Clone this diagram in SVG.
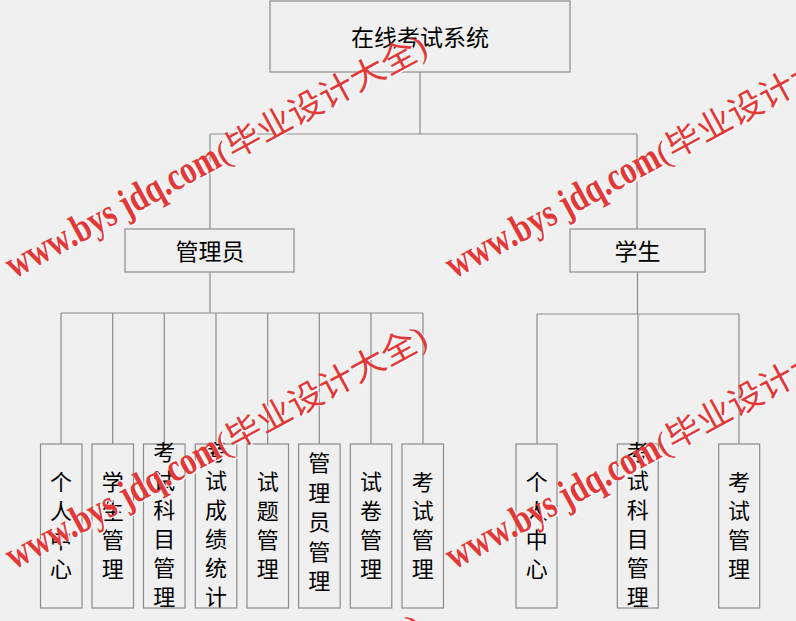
<svg xmlns="http://www.w3.org/2000/svg" width="796" height="621" viewBox="0 0 796 621">
<style>
.box{fill:#f0f0f0;stroke:#8c8c8c;stroke-width:1.2}
.con{fill:none;stroke:#8c8c8c;stroke-width:1.2}
.lbl{font-family:"Noto Sans CJK SC","Noto Sans",sans-serif;fill:#000;text-anchor:middle}
.big{font-size:23px}
.vt{font-size:22px}
.la{font-family:"Liberation Serif",serif;font-size:40px;font-weight:bold}
.cj{font-family:"Liberation Serif","Noto Sans CJK SC",serif;font-size:33px}
.r{fill:#e23838}
.w{fill:#ffffff;opacity:0.9}
</style>
<rect width="796" height="621" fill="#f0f0f0"/>
<g id="connectors">
<path class="con" d="M420 72V134M210 134H637M210 134V229M637 134V229"/>
<path class="con" d="M210 272V313M61 313H423M61 313V444M112.7 313V444M164.3 313V444M216 313V444M267.7 313V444M319.3 313V444M371 313V444M423 313V444"/>
<path class="con" d="M637.5 272V314M537 314H739M537 314V444M638 314V444M739 314V444"/>
</g>
<g id="root"><rect class="box" x="270" y="1" width="300" height="71"/><text class="lbl big" x="420" y="46">在线考试系统</text></g>
<g id="admin"><rect class="box" x="125" y="229" width="169" height="43"/><text class="lbl big" x="210" y="260">管理员</text></g>
<g id="student"><rect class="box" x="570" y="229" width="135" height="43"/><text class="lbl big" x="637.5" y="260">学生</text></g>
<g id="a1"><rect class="box" x="40.5" y="444" width="41.5" height="164"/><text class="lbl vt"><tspan x="61" y="490">个</tspan><tspan x="61" y="519">人</tspan><tspan x="61" y="548">中</tspan><tspan x="61" y="577">心</tspan></text></g>
<g id="a2"><rect class="box" x="92" y="444" width="41.5" height="164"/><text class="lbl vt"><tspan x="112.7" y="490">学</tspan><tspan x="112.7" y="519">生</tspan><tspan x="112.7" y="548">管</tspan><tspan x="112.7" y="577">理</tspan></text></g>
<g id="a3"><rect class="box" x="143.5" y="444" width="41.5" height="164"/><text class="lbl vt"><tspan x="164.3" y="460">考</tspan><tspan x="164.3" y="489">试</tspan><tspan x="164.3" y="518">科</tspan><tspan x="164.3" y="547">目</tspan><tspan x="164.3" y="576">管</tspan><tspan x="164.3" y="605">理</tspan></text></g>
<g id="a4"><rect class="box" x="195.3" y="444" width="41.5" height="164"/><text class="lbl vt"><tspan x="216" y="460">考</tspan><tspan x="216" y="489">试</tspan><tspan x="216" y="518">成</tspan><tspan x="216" y="547">绩</tspan><tspan x="216" y="576">统</tspan><tspan x="216" y="605">计</tspan></text></g>
<g id="a5"><rect class="box" x="247" y="444" width="41.5" height="164"/><text class="lbl vt"><tspan x="267.7" y="490">试</tspan><tspan x="267.7" y="519">题</tspan><tspan x="267.7" y="548">管</tspan><tspan x="267.7" y="577">理</tspan></text></g>
<g id="a6"><rect class="box" x="298.6" y="444" width="41.5" height="164"/><text class="lbl vt"><tspan x="319.3" y="471">管</tspan><tspan x="319.3" y="500.5">理</tspan><tspan x="319.3" y="530">员</tspan><tspan x="319.3" y="559.5">管</tspan><tspan x="319.3" y="589">理</tspan></text></g>
<g id="a7"><rect class="box" x="350.3" y="444" width="41.5" height="164"/><text class="lbl vt"><tspan x="371" y="490">试</tspan><tspan x="371" y="519">卷</tspan><tspan x="371" y="548">管</tspan><tspan x="371" y="577">理</tspan></text></g>
<g id="a8"><rect class="box" x="402" y="444" width="41.5" height="164"/><text class="lbl vt"><tspan x="422.7" y="490">考</tspan><tspan x="422.7" y="519">试</tspan><tspan x="422.7" y="548">管</tspan><tspan x="422.7" y="577">理</tspan></text></g>
<g id="s1"><rect class="box" x="516" y="444" width="41" height="164"/><text class="lbl vt"><tspan x="536.7" y="490">个</tspan><tspan x="536.7" y="519">人</tspan><tspan x="536.7" y="548">中</tspan><tspan x="536.7" y="577">心</tspan></text></g>
<g id="s2"><rect class="box" x="617.3" y="444" width="41" height="164"/><text class="lbl vt"><tspan x="637.8" y="460">考</tspan><tspan x="637.8" y="489">试</tspan><tspan x="637.8" y="518">科</tspan><tspan x="637.8" y="547">目</tspan><tspan x="637.8" y="576">管</tspan><tspan x="637.8" y="605">理</tspan></text></g>
<g id="s3"><rect class="box" x="718.7" y="444" width="41" height="164"/><text class="lbl vt"><tspan x="739" y="490">考</tspan><tspan x="739" y="519">试</tspan><tspan x="739" y="548">管</tspan><tspan x="739" y="577">理</tspan></text></g>
<g id="watermark">
<g transform="translate(14,279) rotate(-28.5)"><text class="la w" x="1.2" y="1.5" textLength="238" lengthAdjust="spacingAndGlyphs">www.bys jdq.com</text><text class="la r" x="0" y="0" textLength="238" lengthAdjust="spacingAndGlyphs">www.bys jdq.com</text><text class="cj w" x="239.2" y="1.5" textLength="235" lengthAdjust="spacingAndGlyphs">(毕业设计大全)</text><text class="cj r" x="238" y="0" textLength="235" lengthAdjust="spacingAndGlyphs">(毕业设计大全)</text></g>
<g transform="translate(454,279) rotate(-28.5)"><text class="la w" x="1.2" y="1.5" textLength="238" lengthAdjust="spacingAndGlyphs">www.bys jdq.com</text><text class="la r" x="0" y="0" textLength="238" lengthAdjust="spacingAndGlyphs">www.bys jdq.com</text><text class="cj w" x="239.2" y="1.5" textLength="235" lengthAdjust="spacingAndGlyphs">(毕业设计大全)</text><text class="cj r" x="238" y="0" textLength="235" lengthAdjust="spacingAndGlyphs">(毕业设计大全)</text></g>
<g transform="translate(14,570) rotate(-28.5)"><text class="la w" x="1.2" y="1.5" textLength="238" lengthAdjust="spacingAndGlyphs">www.bys jdq.com</text><text class="la r" x="0" y="0" textLength="238" lengthAdjust="spacingAndGlyphs">www.bys jdq.com</text><text class="cj w" x="239.2" y="1.5" textLength="235" lengthAdjust="spacingAndGlyphs">(毕业设计大全)</text><text class="cj r" x="238" y="0" textLength="235" lengthAdjust="spacingAndGlyphs">(毕业设计大全)</text></g>
<g transform="translate(454,570) rotate(-28.5)"><text class="la w" x="1.2" y="1.5" textLength="238" lengthAdjust="spacingAndGlyphs">www.bys jdq.com</text><text class="la r" x="0" y="0" textLength="238" lengthAdjust="spacingAndGlyphs">www.bys jdq.com</text><text class="cj w" x="239.2" y="1.5" textLength="235" lengthAdjust="spacingAndGlyphs">(毕业设计大全)</text><text class="cj r" x="238" y="0" textLength="235" lengthAdjust="spacingAndGlyphs">(毕业设计大全)</text></g>
<g transform="translate(9,858) rotate(-28.5)"><text class="la w" x="1.2" y="1.5" textLength="238" lengthAdjust="spacingAndGlyphs">www.bys jdq.com</text><text class="la r" x="0" y="0" textLength="238" lengthAdjust="spacingAndGlyphs">www.bys jdq.com</text><text class="cj w" x="239.2" y="1.5" textLength="235" lengthAdjust="spacingAndGlyphs">(毕业设计大全)</text><text class="cj r" x="238" y="0" textLength="235" lengthAdjust="spacingAndGlyphs">(毕业设计大全)</text></g>
</g>
</svg>
